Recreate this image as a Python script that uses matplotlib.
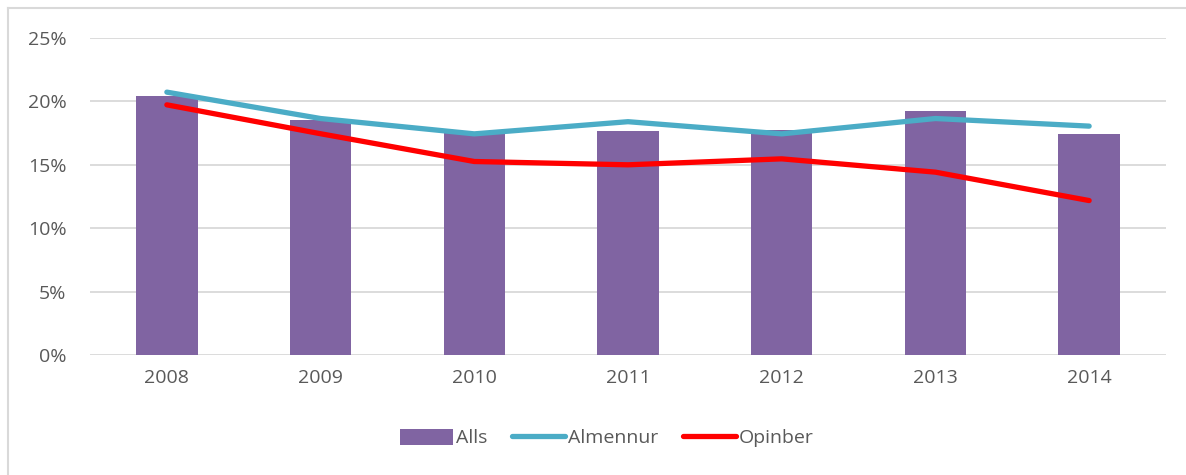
import matplotlib
matplotlib.use("Agg")
import matplotlib.pyplot as plt
from matplotlib.lines import Line2D
import numpy as np

years = ["2008", "2009", "2010", "2011", "2012", "2013", "2014"]
alls = [20.45, 18.55, 17.5, 17.68, 17.76, 19.28, 17.42]
almennur = [20.73, 18.65, 17.44, 18.4, 17.44, 18.65, 18.05]
opinber = [19.73, 17.45, 15.26, 15.0, 15.47, 14.42, 12.18]
yticks = [0, 5, 10, 15, 20, 25]

plt.rcParams['font.family'] = ['Open Sans', 'DejaVu Sans']
txt = '#595959'
fs = 14

fig = plt.figure(figsize=(11.86, 4.75), dpi=100)
ax = fig.add_axes([90/1186, 1-355/475, (1166-90)/1186, (355-38)/475])

x = np.arange(len(years))
b = ax.bar(x, alls, width=0.4, color='#8064A2', label='Alls', zorder=2)
l1, = ax.plot(x, almennur, color='#4BACC6', lw=3.8, solid_capstyle='round', solid_joinstyle='round', label='Almennur', zorder=3)
l2, = ax.plot(x, opinber, color='#FF0000', lw=3.8, solid_capstyle='round', solid_joinstyle='round', label='Opinber', zorder=4)

ax.set_xlim(-0.5, len(years) - 0.5)
ax.set_ylim(0, 25)
ax.set_yticks(yticks)
ax.set_yticklabels([f"{v}%" for v in yticks])
ax.set_xticks(x)
ax.set_xticklabels(years)
ax.yaxis.grid(True, color='#D9D9D9', lw=1.3, zorder=0)
ax.set_axisbelow(True)
for s in ax.spines.values():
    s.set_visible(False)
ax.tick_params(axis='both', length=0, labelsize=fs, colors=txt)
ax.tick_params(axis='y', pad=17)
ax.tick_params(axis='x', pad=10)

leg = fig.legend([b, l1, l2], ['Alls', 'Almennur', 'Opinber'], loc='center',
                 bbox_to_anchor=(607/1186, 1-438/475), ncol=3, frameon=False,
                 fontsize=fs, handlelength=2.7, handleheight=0.9, columnspacing=1.3, handletextpad=0.15)
for t in leg.get_texts():
    t.set_color(txt)

fig.add_artist(Line2D([8/1186, 8/1186], [0, 1-8/475], transform=fig.transFigure, color='#D9D9D9', lw=1.5))
fig.add_artist(Line2D([8/1186, 1], [1-8/475, 1-8/475], transform=fig.transFigure, color='#D9D9D9', lw=1.5))

fig.savefig('out.png', dpi=100)
